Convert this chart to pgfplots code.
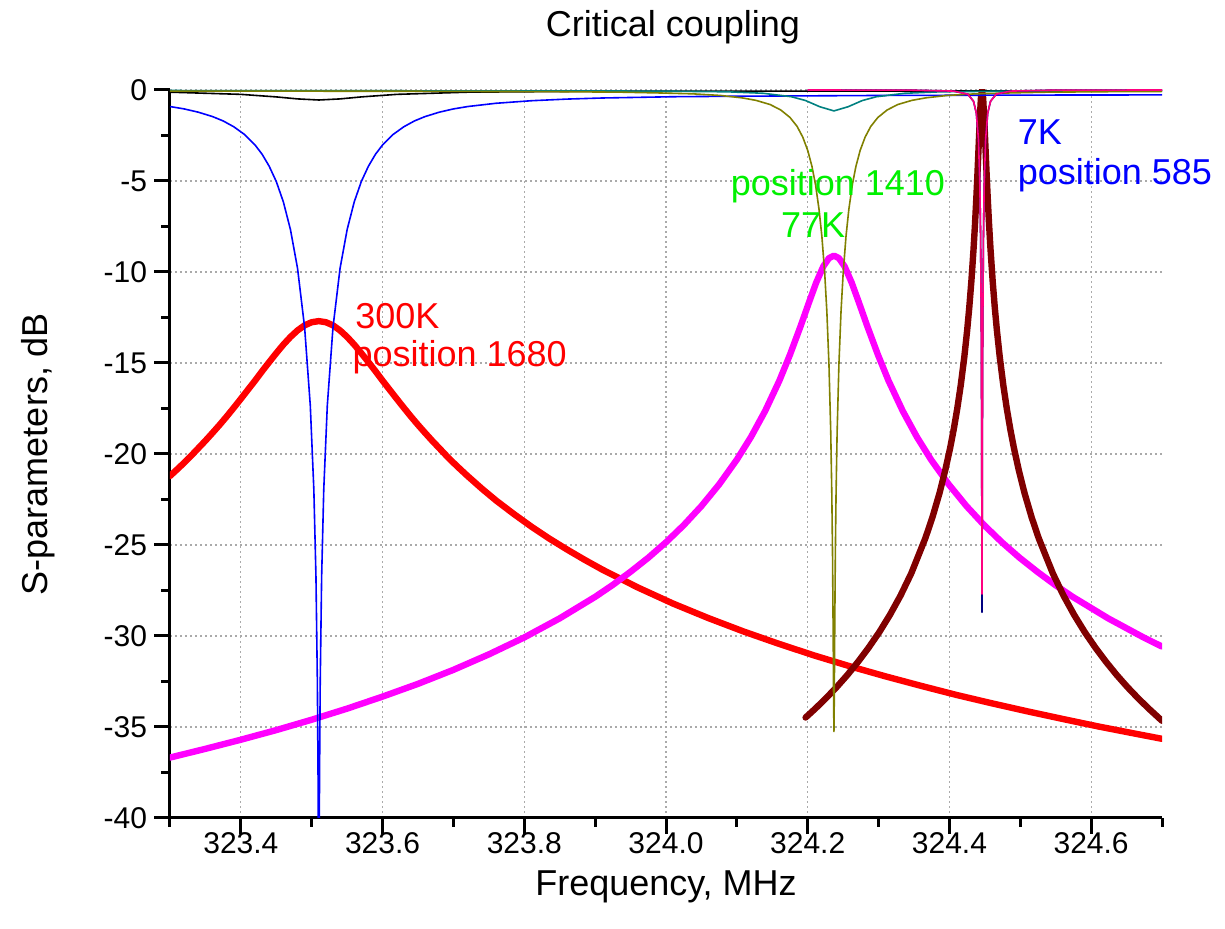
\documentclass[border=0pt]{standalone}
\usepackage{fontspec}
\setmainfont{Liberation Sans}
\usepackage{pgfplots}
\pgfplotsset{compat=1.18}
\usetikzlibrary{calc}
\definecolor{cRed}{RGB}{255,0,0}
\definecolor{cMag}{RGB}{255,0,255}
\definecolor{cMaroon}{RGB}{128,0,0}
\definecolor{cBlue}{RGB}{0,0,255}
\definecolor{cOlive}{RGB}{128,128,0}
\definecolor{cTeal}{RGB}{0,128,128}
\definecolor{cPink}{RGB}{255,0,128}
\definecolor{cNavy}{RGB}{0,0,128}
\definecolor{cGreen}{RGB}{0,240,0}
\definecolor{cGrid}{RGB}{170,170,170}
\begin{document}
\begin{tikzpicture}
\begin{axis}[
  scale only axis, width=496pt, height=364pt,
  xmin=323.3, xmax=324.7, ymin=-40, ymax=0,
  axis x line=bottom, axis y line=left,
  axis line style={-, line width=1.5pt},
  xtick={323.4,323.6,323.8,324.0,324.2,324.4,324.6},
  xticklabels={323.4,323.6,323.8,324.0,324.2,324.4,324.6},
  minor xtick={323.3,323.5,323.7,323.9,324.1,324.3,324.5,324.7},
  ytick={-40,-35,-30,-25,-20,-15,-10,-5,0},
  yticklabels={-40,-35,-30,-25,-20,-15,-10,-5,0},
  minor ytick={-37.5,-32.5,-27.5,-22.5,-17.5,-12.5,-7.5,-2.5},
  tick align=outside,
  major tick length=8pt, minor tick length=4.5pt,
  every tick/.style={black, line width=1.5pt},
  xmajorgrids, ymajorgrids,
  major grid style={cGrid, line width=0.6pt, dash pattern=on 1pt off 1.5pt},
  clip mode=individual,
  ticklabel style={font=\fontsize{15}{18}\selectfont},
  xticklabel style={yshift=2pt, inner sep=1pt},
  thickline/.style={line width=3.2pt, line join=round, line cap=round},
  thinline/.style={line width=0.8pt, line join=round},
]
% 300K S21 (red)
\addplot[cRed, thickline] coordinates {
(323.30,-21.21)(323.31,-20.85)(323.32,-20.48)(323.33,-20.09)(323.34,-19.68)(323.35,-19.27)(323.36,-18.84)(323.37,-18.40)(323.38,-17.94)(323.39,-17.46)(323.40,-16.97)(323.41,-16.47)(323.42,-15.97)(323.43,-15.45)(323.44,-14.95)(323.45,-14.46)(323.46,-13.99)(323.47,-13.57)(323.48,-13.21)(323.49,-12.93)(323.50,-12.76)(323.51,-12.70)
(323.52,-12.76)(323.53,-12.93)(323.54,-13.21)(323.55,-13.57)(323.56,-13.99)(323.57,-14.46)(323.58,-14.95)(323.59,-15.45)(323.60,-15.97)(323.61,-16.47)(323.62,-16.97)(323.63,-17.46)(323.64,-17.94)(323.65,-18.40)(323.66,-18.84)(323.67,-19.27)(323.68,-19.68)(323.69,-20.09)(323.70,-20.48)(323.71,-20.85)(323.72,-21.21)(323.74,-21.90)(323.76,-22.55)(323.785,-23.29)(323.81,-23.99)(323.835,-24.64)(323.86,-25.24)(323.885,-25.81)(323.91,-26.35)(323.96,-27.33)(324.01,-28.22)(324.06,-29.02)(324.11,-29.76)(324.16,-30.44)(324.21,-31.08)(324.26,-31.67)(324.31,-32.22)(324.36,-32.74)(324.41,-33.24)(324.46,-33.70)(324.51,-34.14)(324.56,-34.56)(324.61,-34.97)(324.66,-35.35)(324.70,-35.65)};
% 77K S21 (magenta)
\addplot[cMag, thickline] coordinates {
(323.300,-36.68)(323.350,-36.20)(323.400,-35.70)(323.450,-35.17)(323.500,-34.60)(323.550,-33.99)(323.600,-33.33)(323.650,-32.63)(323.700,-31.86)(323.750,-31.01)(323.800,-30.08)(323.850,-29.03)(323.900,-27.85)(323.925,-27.19)(323.950,-26.47)(323.975,-25.70)(324.000,-24.85)(324.025,-23.91)(324.050,-22.86)(324.075,-21.67)(324.100,-20.31)(324.120,-19.06)(324.140,-17.63)(324.160,-15.97)(324.175,-14.54)(324.190,-12.97)(324.202,-11.65)(324.212,-10.58)(324.222,-9.69)(324.230,-9.24)(324.237,-9.10)
(324.244,-9.24)(324.252,-9.69)(324.262,-10.58)(324.272,-11.65)(324.284,-12.97)(324.299,-14.54)(324.314,-15.97)(324.334,-17.63)(324.354,-19.06)(324.374,-20.31)(324.399,-21.67)(324.424,-22.86)(324.449,-23.91)(324.474,-24.85)(324.499,-25.70)(324.524,-26.47)(324.549,-27.19)(324.574,-27.85)(324.624,-29.03)(324.674,-30.08)(324.700,-30.58)};
% 7K S21 (maroon)
\addplot[cMaroon, thickline] coordinates {
(324.197,-34.48)(324.211,-33.98)(324.226,-33.41)(324.241,-32.80)(324.256,-32.14)(324.271,-31.42)(324.286,-30.64)(324.301,-29.79)(324.316,-28.84)(324.331,-27.78)(324.346,-26.57)(324.366,-24.63)(324.376,-23.48)(324.386,-22.15)(324.394,-20.91)(324.401,-19.67)(324.406,-18.66)(324.411,-17.52)(324.416,-16.21)(324.421,-14.67)(324.425,-13.21)(324.428,-11.95)(324.431,-10.49)(324.434,-8.76)(324.436,-7.43)(324.438,-5.91)(324.4395,-4.64)(324.441,-3.29)(324.442,-2.37)(324.443,-1.48)(324.4445,-0.42)(324.446,0)
(324.4475,-0.42)(324.449,-1.48)(324.450,-2.37)(324.451,-3.29)(324.4525,-4.64)(324.454,-5.91)(324.456,-7.43)(324.458,-8.76)(324.461,-10.49)(324.464,-11.95)(324.467,-13.21)(324.471,-14.67)(324.476,-16.21)(324.481,-17.52)(324.486,-18.66)(324.491,-19.67)(324.498,-20.91)(324.506,-22.15)(324.516,-23.48)(324.526,-24.63)(324.546,-26.57)(324.561,-27.78)(324.576,-28.84)(324.591,-29.79)(324.606,-30.64)(324.621,-31.42)(324.636,-32.14)(324.651,-32.80)(324.666,-33.41)(324.681,-33.98)(324.70,-34.66)};
% 300K small dip (black)
\addplot[black, thinline] coordinates {
(323.30,-0.12)(323.40,-0.24)(323.45,-0.38)(323.48,-0.49)(323.51,-0.55)(323.54,-0.49)(323.57,-0.38)(323.62,-0.24)(323.72,-0.12)(323.90,-0.07)(324.20,-0.06)(324.70,-0.05)};
% 300K S11 (blue)
\addplot[cBlue, thinline] coordinates {
(323.30,-0.91)(323.32,-1.04)(323.34,-1.22)(323.36,-1.46)(323.375,-1.70)(323.39,-2.02)(323.405,-2.44)(323.42,-3.02)(323.43,-3.53)(323.44,-4.19)(323.45,-5.03)(323.46,-6.15)(323.47,-7.67)(323.48,-9.80)(323.49,-13.05)(323.498,-17.34)(323.503,-21.95)(323.506,-26.75)(323.508,-32.58)(323.509,-37.95)(323.5095,-42.04)(323.51,-45.25)
(323.5105,-42.04)(323.511,-37.95)(323.512,-32.58)(323.514,-26.75)(323.517,-21.95)(323.522,-17.34)(323.53,-13.05)(323.54,-9.80)(323.55,-7.67)(323.56,-6.15)(323.57,-5.03)(323.58,-4.19)(323.59,-3.53)(323.60,-3.02)(323.615,-2.44)(323.63,-2.02)(323.645,-1.70)(323.66,-1.46)(323.68,-1.22)(323.70,-1.04)(323.72,-0.91)(323.76,-0.73)(323.81,-0.59)(323.86,-0.50)(323.91,-0.44)(324.01,-0.37)(324.11,-0.34)(324.31,-0.30)(324.51,-0.28)(324.70,-0.27)};
% 77K small dip (teal)
\addplot[cTeal, thinline] coordinates {
(323.30,-0.03)(323.987,-0.06)(324.087,-0.10)(324.137,-0.18)(324.177,-0.37)(324.197,-0.58)(324.217,-0.92)(324.237,-1.15)(324.257,-0.92)(324.277,-0.58)(324.297,-0.37)(324.337,-0.18)(324.387,-0.10)(324.487,-0.06)(324.70,-0.03)};
% 77K S11 (olive)
\addplot[cOlive, thinline] coordinates {
(323.300,-0.06)(323.637,-0.07)(323.837,-0.09)(323.937,-0.12)(323.987,-0.16)(324.037,-0.21)(324.077,-0.30)(324.107,-0.43)(324.127,-0.57)(324.147,-0.80)(324.162,-1.10)(324.175,-1.51)(324.185,-2.00)(324.193,-2.59)(324.200,-3.32)(324.206,-4.20)(324.211,-5.20)(324.216,-6.57)(324.220,-8.05)(324.224,-10.08)(324.227,-12.17)(324.230,-15.11)(324.2325,-18.81)(324.234,-22.18)(324.235,-25.43)(324.236,-30.26)(324.2365,-33.38)(324.237,-35.25)
(324.2375,-33.38)(324.238,-30.26)(324.239,-25.43)(324.240,-22.18)(324.2415,-18.81)(324.244,-15.11)(324.247,-12.17)(324.250,-10.08)(324.254,-8.05)(324.258,-6.57)(324.263,-5.20)(324.268,-4.20)(324.274,-3.32)(324.281,-2.59)(324.289,-2.00)(324.299,-1.51)(324.312,-1.10)(324.327,-0.80)(324.347,-0.57)(324.367,-0.43)(324.397,-0.30)(324.437,-0.21)(324.487,-0.16)(324.537,-0.12)(324.637,-0.09)(324.700,-0.08)};
% 7K S11 (navy)
\addplot[cNavy, thinline] coordinates {
(324.20,0)(324.346,-0.01)(324.406,-0.06)(324.426,-0.23)(324.434,-0.62)(324.438,-1.28)(324.441,-2.74)(324.443,-5.37)(324.444,-8.10)(324.445,-13.47)(324.4455,-19.02)(324.446,-28.70)(324.4465,-19.02)(324.447,-13.47)(324.448,-8.10)(324.449,-5.37)(324.451,-2.74)(324.454,-1.28)(324.458,-0.62)(324.466,-0.23)(324.486,-0.06)(324.546,-0.01)(324.70,0)};
% 7K S11 (pink)
\addplot[cPink, thinline] coordinates {
(324.20,0)(324.346,-0.01)(324.406,-0.06)(324.426,-0.23)(324.434,-0.62)(324.438,-1.28)(324.441,-2.74)(324.443,-5.37)(324.444,-8.10)(324.445,-13.47)(324.4455,-18.90)(324.446,-27.70)(324.4465,-18.90)(324.447,-13.47)(324.448,-8.10)(324.449,-5.37)(324.451,-2.74)(324.454,-1.28)(324.458,-0.62)(324.466,-0.23)(324.486,-0.06)(324.546,-0.01)(324.70,0)};
% annotations
\node[anchor=base west, inner sep=0pt, text=cRed, font=\fontsize{18}{21}\selectfont] at (axis cs:323.561,-13.08) {300K};
\node[anchor=base west, inner sep=0pt, text=cRed, font=\fontsize{18}{21}\selectfont] at (axis cs:323.557,-15.22) {position 1680};
\node[anchor=base west, inner sep=0pt, text=cGreen, font=\fontsize{18}{21}\selectfont] at (axis cs:324.091,-5.82) {position 1410};
\node[anchor=base west, inner sep=0pt, text=cGreen, font=\fontsize{18}{21}\selectfont] at (axis cs:324.162,-8.08) {77K};
\node[anchor=base west, inner sep=0pt, text=cBlue, font=\fontsize{18}{21}\selectfont] at (axis cs:324.496,-3.02) {7K};
\node[anchor=base west, inner sep=0pt, text=cBlue, font=\fontsize{18}{21}\selectfont] at (axis cs:324.496,-5.22) {position 585};
\end{axis}
\node[anchor=base, inner sep=0pt, font=\fontsize{18}{21}\selectfont] at ($(current axis.north)+(3.5pt,26.5pt)$) {Critical coupling};
\node[anchor=base, inner sep=0pt, font=\fontsize{18}{21}\selectfont] at ($(current axis.south)+(0pt,-39pt)$) {Frequency, MHz};
\node[anchor=base, inner sep=0pt, rotate=90, font=\fontsize{18}{21}\selectfont] at ($(current axis.west)+(-61pt,0pt)$) {S-parameters, dB};
\pgfresetboundingbox
\path[use as bounding box] ($(current axis.south west)+(-85pt,-55.5pt)$) rectangle ($(current axis.north east)+(31.5pt,45pt)$);
\end{tikzpicture}
\end{document}
